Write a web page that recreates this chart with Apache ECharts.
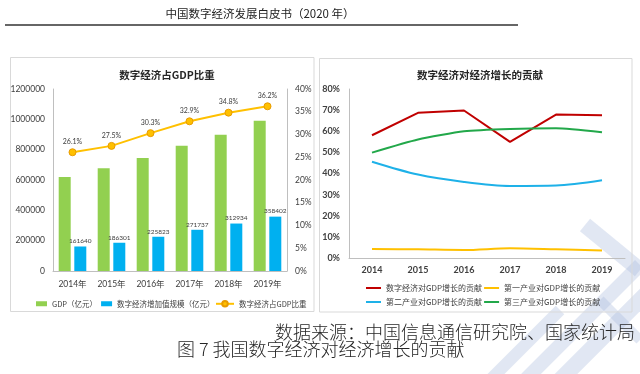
<!DOCTYPE html>
<html>
<head>
<meta charset="utf-8">
<script src="https://cdn.jsdelivr.net/npm/echarts@6/dist/echarts.min.js"></script>
<style>
html,body{margin:0;padding:0;background:#fff;}
#main{width:640px;height:374px;}
</style>
</head>
<body>
<div id="main"></div>
<script>
// ---- Left chart data ----
const leftYears = ['2014年', '2015年', '2016年', '2017年', '2018年', '2019年'];
const gdpValues = [619000, 677000, 745000, 826000, 899000, 990000];
const digitalValues = [161640, 186301, 225823, 271737, 312934, 358402];
const shareValues = [26.1, 27.5, 30.3, 32.9, 34.8, 36.2];

// ---- Right chart data ----
const rightYears = ['2014', '2015', '2016', '2017', '2018', '2019'];
const digitalContrib = [58.1, 68.7, 69.8, 55.0, 67.9, 67.6];
const primaryContrib = [4.3, 4.1, 3.8, 4.6, 4.1, 3.5];
const secondaryContrib = [45.6, 39.5, 36.0, 34.1, 34.3, 36.8];
const tertiaryContrib = [49.9, 56.1, 60.0, 61.1, 61.4, 59.5];

// ---- Texts ----
const headerText = '中国数字经济发展白皮书（2020 年）';
const leftTitle = '数字经济占GDP比重';
const rightTitle = '数字经济对经济增长的贡献';
const sourceText = '数据来源：中国信息通信研究院、国家统计局';
const captionText = '图 7 我国数字经济对经济增长的贡献';
const leftNames = ['GDP（亿元）', '数字经济增加值规模（亿元）', '数字经济占GDP比重'];
const rightNames = ['数字经济对GDP增长的贡献', '第一产业对GDP增长的贡献', '第二产业对GDP增长的贡献', '第三产业对GDP增长的贡献'];

const FONT = "Lato, 'Noto Sans CJK SC', sans-serif";
const CJK = "'Noto Sans CJK SC', sans-serif";
const axisGray = '#BFBFBF';
const labelColor = '#404040';

const chart = echarts.init(document.getElementById('main'), null, {renderer: 'canvas'});

const wm = 'rgba(170,185,220,0.35)';
function band(x1, y1, x2, y2, w) {
  const dx = x2 - x1, dy = y2 - y1, L = Math.hypot(dx, dy);
  const nx = -dy / L * w / 2, ny = dx / L * w / 2;
  return {type: 'polygon', silent: true, z: -10,
    shape: {points: [[x1 + nx, y1 + ny], [x2 + nx, y2 + ny], [x2 - nx, y2 - ny], [x1 - nx, y1 - ny]]},
    style: {fill: wm}};
}

const option = {
  backgroundColor: '#fff',
  animation: false,
  textStyle: {fontFamily: FONT},
  title: [
    {text: leftTitle, left: 162, top: 65, textAlign: 'center',
     textStyle: {fontFamily: CJK, fontSize: 10.5, fontWeight: 'bold', color: '#262626'}},
    {text: rightTitle, left: 475, top: 65, textAlign: 'center',
     textStyle: {fontFamily: CJK, fontSize: 10.5, fontWeight: 'bold', color: '#262626'}}
  ],
  graphic: [
    band(560, 380, 650, 290, 16),
    band(525, 380, 640, 265, 14),
    band(490, 380, 560, 310, 12),
    band(585, 225, 640, 270, 16),
    band(600, 300, 640, 340, 10),
    {type: 'text', x: 0, y: 0, z: 10, style: {text: headerText, x: 260, y: 14, align: 'center', verticalAlign: 'middle',
      font: "11.5px 'Noto Sans CJK SC'", fill: '#222'}},
    {type: 'line', shape: {x1: 5, y1: 25, x2: 518, y2: 25}, style: {stroke: '#333', lineWidth: 1.4}},
    {type: 'rect', shape: {x: 10.5, y: 57.5, width: 303.5, height: 254}, style: {fill: 'none', stroke: '#D9D9D9', lineWidth: 1}},
    {type: 'rect', shape: {x: 319.5, y: 58.5, width: 312.5, height: 253.5}, style: {fill: 'none', stroke: '#D9D9D9', lineWidth: 1}},
    {type: 'text', x: 0, y: 0, z: 10, style: {text: sourceText, x: 635, y: 332, align: 'right', verticalAlign: 'middle',
      font: "300 18px 'Noto Sans CJK SC'", fill: '#262626'}},
    {type: 'text', x: 0, y: 0, z: 10, style: {text: captionText, x: 177, y: 349, align: 'left', verticalAlign: 'middle',
      font: "300 18px 'Noto Sans CJK SC'", fill: '#262626'}}
  ],
  legend: [
    {left: 31, top: 295, itemWidth: 11, itemHeight: 5, itemGap: 4, icon: 'rect',
     data: [leftNames[0], leftNames[1]],
     textStyle: {fontFamily: CJK, fontSize: 7.5, color: labelColor}},
    {left: 210, top: 295, itemWidth: 18, itemHeight: 7, itemGap: 4,
     data: [leftNames[2]],
     textStyle: {fontFamily: CJK, fontSize: 7.5, color: labelColor}},
    {left: 361, top: 279, itemWidth: 15, itemHeight: 2, itemGap: 2, icon: 'rect',
     data: [rightNames[0], rightNames[1]],
     textStyle: {fontFamily: CJK, fontSize: 8, color: labelColor}},
    {left: 361, top: 293, itemWidth: 15, itemHeight: 2, itemGap: 2, icon: 'rect',
     data: [rightNames[2], rightNames[3]],
     textStyle: {fontFamily: CJK, fontSize: 8, color: labelColor}}
  ],
  grid: [
    {left: 53, top: 89, width: 234, height: 182},
    {left: 349, top: 89, width: 276, height: 169}
  ],
  xAxis: [
    {type: 'category', gridIndex: 0, data: leftYears, boundaryGap: true,
     axisLine: {lineStyle: {color: axisGray}}, axisTick: {show: false},
     axisLabel: {fontFamily: FONT, fontSize: 8.5, color: labelColor, margin: 9}},
    {type: 'category', gridIndex: 1, data: rightYears, boundaryGap: true,
     axisLine: {lineStyle: {color: axisGray}}, axisTick: {show: false},
     axisLabel: {fontFamily: FONT, fontSize: 9, fontWeight: 'bold', color: '#404040', margin: 8}}
  ],
  yAxis: [
    {type: 'value', gridIndex: 0, min: 0, max: 1200000, interval: 200000,
     axisLine: {show: true, lineStyle: {color: axisGray}}, axisTick: {show: false}, splitLine: {show: false},
     axisLabel: {fontFamily: FONT, fontSize: 8.5, color: labelColor, margin: 8, formatter: (v) => String(v)}},
    {type: 'value', gridIndex: 0, min: 0, max: 40, interval: 5, position: 'right',
     axisLine: {show: true, lineStyle: {color: axisGray}}, axisTick: {show: false}, splitLine: {show: false},
     axisLabel: {fontFamily: FONT, fontSize: 8.5, color: labelColor, margin: 8, formatter: '{value}%'}},
    {type: 'value', gridIndex: 1, min: 0, max: 80, interval: 10,
     axisLine: {show: true, lineStyle: {color: axisGray}}, axisTick: {show: false}, splitLine: {show: false},
     axisLabel: {fontFamily: FONT, fontSize: 9, fontWeight: 'bold', color: '#404040', margin: 9, formatter: '{value}%'}}
  ],
  series: [
    {name: leftNames[0], type: 'bar', xAxisIndex: 0, yAxisIndex: 0, data: gdpValues,
     barWidth: 12, barGap: '30%', itemStyle: {color: '#92D050'}},
    {name: leftNames[1], type: 'bar', xAxisIndex: 0, yAxisIndex: 0, data: digitalValues,
     barWidth: 12, barGap: '30%', itemStyle: {color: '#00B0F0'},
     label: {show: true, position: 'top', distance: 2, fontFamily: FONT, fontSize: 6.5, color: labelColor}},
    {name: leftNames[2], type: 'line', xAxisIndex: 0, yAxisIndex: 1, data: shareValues,
     symbol: 'circle', symbolSize: 7,
     lineStyle: {color: '#FFC000', width: 2},
     itemStyle: {color: '#FFC000', borderColor: '#E89B00', borderWidth: 1},
     label: {show: true, position: 'top', distance: 3, fontFamily: FONT, fontSize: 7, color: labelColor, formatter: '{c}%'}},
    {name: rightNames[0], type: 'line', xAxisIndex: 1, yAxisIndex: 2, data: digitalContrib,
     symbol: 'none', lineStyle: {color: '#C00000', width: 2}, itemStyle: {color: '#C00000'}},
    {name: rightNames[1], type: 'line', xAxisIndex: 1, yAxisIndex: 2, data: primaryContrib,
     symbol: 'none', smooth: 0.3, lineStyle: {color: '#FFC000', width: 2}, itemStyle: {color: '#FFC000'}},
    {name: rightNames[2], type: 'line', xAxisIndex: 1, yAxisIndex: 2, data: secondaryContrib,
     symbol: 'none', smooth: 0.3, lineStyle: {color: '#1EB1E8', width: 2}, itemStyle: {color: '#1EB1E8'}},
    {name: rightNames[3], type: 'line', xAxisIndex: 1, yAxisIndex: 2, data: tertiaryContrib,
     symbol: 'none', smooth: 0.2, lineStyle: {color: '#22A84A', width: 2}, itemStyle: {color: '#22A84A'}}
  ]
};
chart.setOption(option);
</script>
</body>
</html>
